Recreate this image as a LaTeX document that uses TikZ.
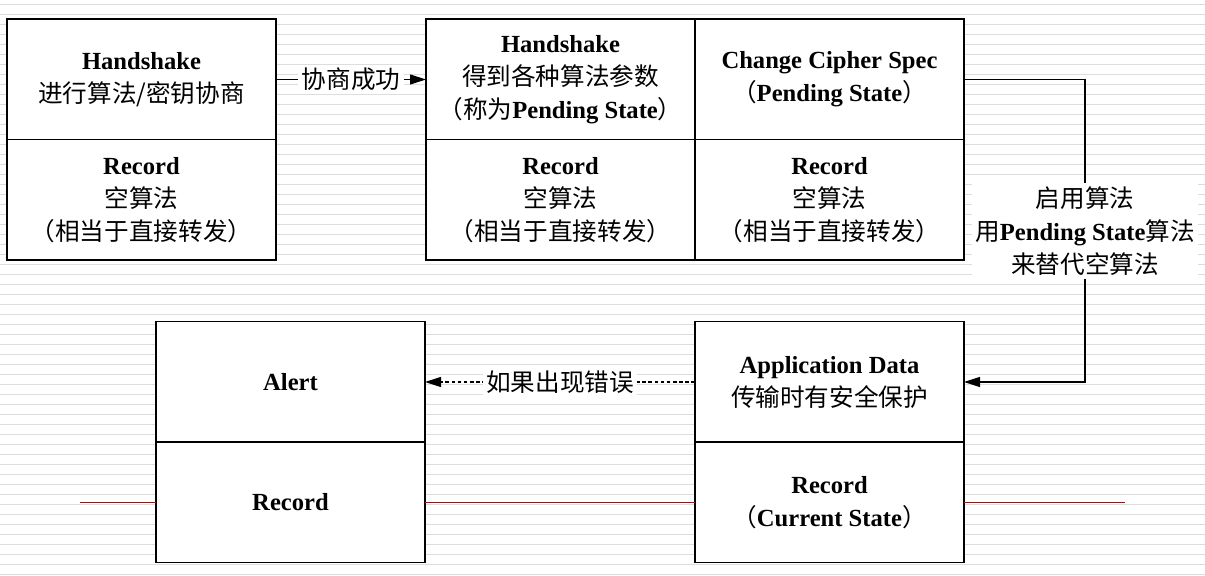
\documentclass[tikz,border=0pt]{standalone}
\usepackage{fontspec}
\setmainfont{Liberation Serif}
\newfontfamily\cjk{Noto Sans CJK SC}
\usetikzlibrary{positioning,arrows.meta}
\newcommand{\zh}[1]{{\cjk #1}}
\definecolor{stripe}{RGB}{221,221,221}
\definecolor{recline}{RGB}{204,0,0}

\begin{document}
\begin{tikzpicture}[
  cell/.style={draw, fill=white, line width=0.85pt, outer sep=0pt, inner sep=0pt,
    minimum width=5.38cm, minimum height=2.41cm, align=center,
    font=\fontsize{14}{18.8}\selectfont},
  lbl/.style={fill=white, inner sep=2pt, align=center,
    font=\fontsize{14}{18.8}\selectfont},
  node distance=0cm,
  >={Triangle[length=3.2mm,width=2mm]}]
\useasboundingbox (0,0) rectangle (24.1,11.52);
% lined background
\foreach \y in {0,...,57}
  \draw[stripe, line width=1.1pt] (0, 11.43-0.2*\y) -- (24.1, 11.43-0.2*\y);
% upper row
\node[cell] (hs1) at (2.83, 9.93) {\textbf{Handshake}\\\zh{进行算法/密钥协商}};
\node[cell, below=of hs1] (rec1) {\textbf{Record}\\\zh{空算法}\\\zh{（相当于直接转发）}};
\node[cell] (hs2) at (11.21, 9.93) {\textbf{Handshake}\\\zh{得到各种算法参数}\\\zh{（称为}\textbf{Pending State}\zh{）}};
\node[cell, right=of hs2] (ccs) {\textbf{Change Cipher Spec}\\\zh{（}\textbf{Pending State}\zh{）}};
\node[cell, below=of hs2] (rec2) {\textbf{Record}\\\zh{空算法}\\\zh{（相当于直接转发）}};
\node[cell, below=of ccs] (rec3) {\textbf{Record}\\\zh{空算法}\\\zh{（相当于直接转发）}};
% lower row
\node[cell] (alert) at (5.81, 3.88) {\textbf{Alert}};
\node[cell, below=of alert] (rec4) {\textbf{Record}};
\node[cell] (app) at (16.59, 3.88) {\textbf{Application Data}\\\zh{传输时有安全保护}};
\node[cell, below=of app] (rec5) {\textbf{Record}\\\zh{（}\textbf{Current State}\zh{）}};
% record layer line
\coordinate[left=1.52cm of rec4.west] (redL);
\coordinate[right=3.22cm of rec5.east] (redR);
\draw[recline, line width=0.9pt] (redL) -- (rec4.west) (rec4.east) -- (rec5.west)
  (rec5.east) -- (redR);
% transitions
\draw[->, line width=0.6pt] (hs1.east) -- node[lbl] {\zh{协商成功}} (hs2.west);
\draw[->, line width=0.6pt] (ccs.east) -- ++(2.42,0) |- node[lbl, pos=0.25]
  {\zh{启用算法}\\\zh{用}\textbf{Pending State}\zh{算法}\\\zh{来替代空算法}} (app.east);
\draw[->, line width=0.6pt, dash pattern=on 2pt off 1.5pt] (app.west)
  -- node[lbl] {\zh{如果出现错误}} (alert.east);
\end{tikzpicture}
\end{document}
